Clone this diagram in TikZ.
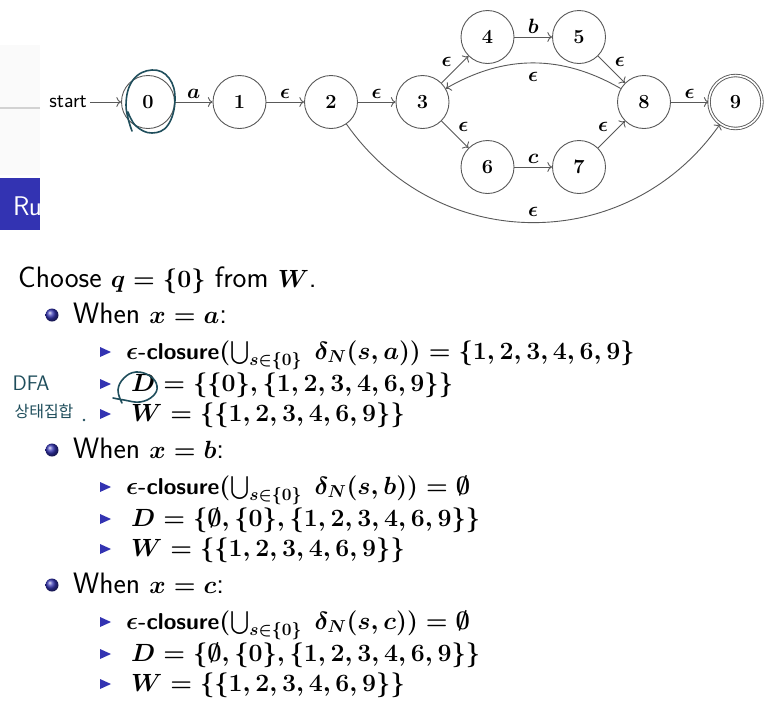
\documentclass[tikz,border=0pt]{standalone}
\usepackage{amsmath, amssymb}
\usepackage{fontspec}
\newfontfamily\krfont{Noto Sans CJK KR}
\usepackage{tikz}
\usetikzlibrary{positioning, arrows.meta, shapes}
\DeclareMathSizes{23}{23}{19}{14}
\definecolor{struct}{rgb}{0.2,0.2,0.7}
\definecolor{ink}{HTML}{1F4E5C}
\definecolor{edgegray}{gray}{0.35}
\tikzset{
  st/.style={
    draw=edgegray, circle, on grid,
    line width=0.9pt, minimum size=53pt, inner sep=0pt,
    font=\fontsize{20}{24}\selectfont\bfseries
  },
  acc/.style={st, double=white, double distance=1.6pt},
  tr/.style={-{To[scale=1.3]}, draw=edgegray, line width=0.9pt, auto},
  lbl/.style={font=\fontsize{20}{24}\selectfont\boldmath, inner sep=3pt},
  body/.style={
    anchor=base west, inner sep=0pt,
    font=\fontsize{29.5}{35}\selectfont\sffamily\boldmath
  },
  sub/.style={
    anchor=base west, inner sep=0pt,
    font=\fontsize{23}{28}\selectfont\sffamily\boldmath
  },
  ballb/.style={circle, ball color=struct, minimum size=13pt, inner sep=0pt},
  hand/.style={draw=ink, line width=1.6pt, line cap=round, line join=round},
}

\begin{document}
\begin{tikzpicture}[x=1pt, y=-1pt]
    \fill[white] (0,0) rectangle (773,710);
    \useasboundingbox (0,0) rectangle (773,710);
    % slide margin
    \fill[gray!4] (0,45) rectangle (40,175);
    \draw[gray!35, line width=1.5pt] (0,108) -- (40,108);
    \fill[struct] (0,178) rectangle (40,230);
    \begin{scope}
      \clip (0,178) rectangle (40,230);
      \node[anchor=base west, inner sep=0pt, text=white,
            font=\fontsize{27}{32}\selectfont\sffamily] (ru) at (13,215) {Ru};
    \end{scope}

    % NFA
    \node[st]                                   (s0) at (148,102) {0};
    \node[st, right=91.5pt of s0]               (s1) {1};
    \node[st, right=91.5pt of s1]               (s2) {2};
    \node[st, right=91.5pt of s2]               (s3) {3};
    \node[st, above right=65pt and 65pt of s3]  (s4) {4};
    \node[st, right=91.5pt of s4]               (s5) {5};
    \node[st, below right=65pt and 65pt of s3]  (s6) {6};
    \node[st, right=91.5pt of s6]               (s7) {7};
    \node[st, below right=65pt and 65pt of s5]  (s8) {8};
    \node[acc, right=91.5pt of s8]              (s9) {9};
    \node[left=31pt of s0, inner sep=3pt,
          font=\fontsize{21}{25}\selectfont\sffamily] (start) {start};
    \draw[tr] (start) -- (s0);
    \draw[tr] (s0) -- node[lbl] {$a$} (s1);
    \draw[tr] (s1) -- node[lbl] {$\epsilon$} (s2);
    \draw[tr] (s2) -- node[lbl] {$\epsilon$} (s3);
    \draw[tr] (s3) -- node[lbl] {$\epsilon$} (s4);
    \draw[tr] (s4) -- node[lbl] {$b$} (s5);
    \draw[tr] (s5) -- node[lbl] {$\epsilon$} (s8);
    \draw[tr] (s3) -- node[lbl] {$\epsilon$} (s6);
    \draw[tr] (s6) -- node[lbl] {$c$} (s7);
    \draw[tr] (s7) -- node[lbl] {$\epsilon$} (s8);
    \draw[tr] (s8) -- node[lbl] {$\epsilon$} (s9);
    \draw[tr] (s8) to[bend right=30] node[lbl, inner sep=9pt] {$\epsilon$} (s3);
    \draw[tr] (s2) to[bend right=55, looseness=1.1] node[lbl, inner sep=6pt] {$\epsilon$} (s9);

    % worklist step
    \node[body] (choose) at (18,287) {Choose $q=\{0\}$ from $W$.};
    \node[ballb] (ba) at (52,315) {};
    \node[body]  (wa) at (73,323) {When $x=a$:};
    \node[sub] (cla) at (126,359)
      {$\epsilon$\textbf{-closure}$(\bigcup_{s\in\{0\}}\;\delta_N(s,a))=\{1,2,3,4,6,9\}$};
    \node[sub] (da)  at (131,391) {$D=\{\{0\},\{1,2,3,4,6,9\}\}$};
    \node[sub] (wwa) at (131,421) {$W=\{\{1,2,3,4,6,9\}\}$};
    \node[ballb] (bb) at (52,450) {};
    \node[body]  (wb) at (73,458) {When $x=b$:};
    \node[sub] (clb) at (126,494)
      {$\epsilon$\textbf{-closure}$(\bigcup_{s\in\{0\}}\;\delta_N(s,b))=\emptyset$};
    \node[sub] (db)  at (131,526) {$D=\{\emptyset,\{0\},\{1,2,3,4,6,9\}\}$};
    \node[sub] (wwb) at (131,556) {$W=\{\{1,2,3,4,6,9\}\}$};
    \node[ballb] (bc) at (52,585) {};
    \node[body]  (wc) at (73,593) {When $x=c$:};
    \node[sub] (clc) at (126,629)
      {$\epsilon$\textbf{-closure}$(\bigcup_{s\in\{0\}}\;\delta_N(s,c))=\emptyset$};
    \node[sub] (dc)  at (131,661) {$D=\{\emptyset,\{0\},\{1,2,3,4,6,9\}\}$};
    \node[sub] (wwc) at (131,691) {$W=\{\{1,2,3,4,6,9\}\}$};
    \foreach \y in {352,384,414,487,519,549,622,654,684}
      \fill[struct] (100,\y-5) -- ++(11,5) -- ++(-11,5) -- cycle;

    % handwritten notes
    \draw[hand] plot[smooth, tension=0.7] coordinates
      {(132,131) (126,105) (133,80) (152,70) (169,78) (175,100) (168,125) (152,133) (136,126) (128,112)};
    \draw[hand] plot[smooth, tension=0.7] coordinates
      {(113,398) (124,400) (140,402) (153,396) (157,386) (150,376) (136,372) (124,378) (118,390) (122,403)};
    \node[text=ink, font=\fontsize{21}{24}\selectfont\sffamily] (dfa) at (31,383) {DFA};
    \node[text=ink, font=\fontsize{16}{18}\selectfont\krfont] (stset) at (44,411) {상태집합};
    \fill[ink] (84,420) circle (1.3);
\end{tikzpicture}
\end{document}
